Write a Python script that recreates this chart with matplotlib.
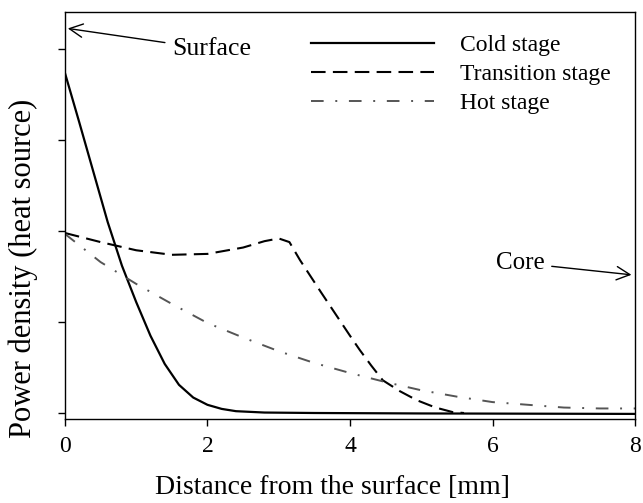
import matplotlib
matplotlib.use("Agg")
import matplotlib.pyplot as plt

plt.rcParams['font.family'] = ['Liberation Serif', 'DejaVu Serif']

# power density profiles vs depth (arbitrary units)
cold_x = [0.0, 0.2, 0.4, 0.6, 0.8, 1.0, 1.2, 1.4, 1.6, 1.8, 2.0, 2.2, 2.4, 2.8, 3.5, 5.0, 8.0]
cold_y = [3.74, 3.2, 2.65, 2.1, 1.62, 1.22, 0.85, 0.54, 0.31, 0.17, 0.09, 0.045, 0.02, 0.005, 0.0, -0.005, -0.01]

trans_x = [0.0, 0.5, 1.0, 1.5, 2.0, 2.5, 2.8, 3.0, 3.15, 3.3, 3.6, 4.0, 4.14, 4.3, 4.46, 4.7, 4.94, 5.2, 5.44, 5.6]
trans_y = [1.98, 1.88, 1.79, 1.74, 1.75, 1.82, 1.89, 1.92, 1.88, 1.68, 1.32, 0.85, 0.69, 0.52, 0.36, 0.24, 0.14, 0.06, 0.01, 0.0]

hot_x = [0.0, 0.5, 1.0, 1.5, 2.0, 2.5, 3.0, 3.5, 4.0, 4.5, 5.0, 5.5, 6.0, 6.5, 7.0, 7.5, 8.0]
hot_y = [1.97, 1.66, 1.42, 1.2, 0.99, 0.83, 0.68, 0.55, 0.44, 0.34, 0.25, 0.18, 0.12, 0.09, 0.06, 0.05, 0.05]

x_ticks = [0, 2, 4, 6, 8]
y_ticks = [0, 1, 2, 3, 4]

fig = plt.figure(figsize=(6.43, 5.03), dpi=100)
ax = fig.add_axes([0.101, 0.167, 0.8866, 0.809])

ax.plot(cold_x, cold_y, color='black', lw=1.6, label='Cold stage')
ax.plot(trans_x, trans_y, color='black', lw=1.5, dashes=(7, 3.5), label='Transition stage')
ax.plot(hot_x, hot_y, color='#555555', lw=1.4, dashes=(6.5, 6, 1, 6), label='Hot stage')

ax.set_xlim(0, 8)
ax.set_ylim(-0.066, 4.41)
ax.set_xticks(x_ticks)
ax.set_yticks(y_ticks)
ax.set_yticklabels([])
ax.tick_params(axis='both', direction='out', length=5, width=1, labelsize=17)
ax.tick_params(axis='x', pad=7)

for s in ax.spines.values():
    s.set_linewidth(1.0)

ax.set_xlabel('Distance from the surface [mm]', fontsize=20)
ax.xaxis.set_label_coords(0.47, -0.138)
ax.set_ylabel('Power density (heat source)', fontsize=22)
ax.yaxis.set_label_coords(-0.047, 0.37)

ax.legend(loc='upper left', bbox_to_anchor=(0.395, 0.997), frameon=False, fontsize=17,
          handlelength=5.2, handletextpad=1.1, labelspacing=0.32)

ax.annotate('Surface', xy=(0.04, 4.23), xytext=(1.5, 4.0), fontsize=18.5,
            va='center', ha='left',
            arrowprops=dict(arrowstyle='->', color='black', lw=1.0,
                            mutation_scale=24, shrinkA=3, shrinkB=0))
ax.annotate('Core', xy=(7.95, 1.52), xytext=(6.05, 1.65), fontsize=18,
            va='center', ha='left',
            arrowprops=dict(arrowstyle='->', color='black', lw=1.0,
                            mutation_scale=24, shrinkA=3, shrinkB=0))

fig.savefig('out.png', dpi=100)
